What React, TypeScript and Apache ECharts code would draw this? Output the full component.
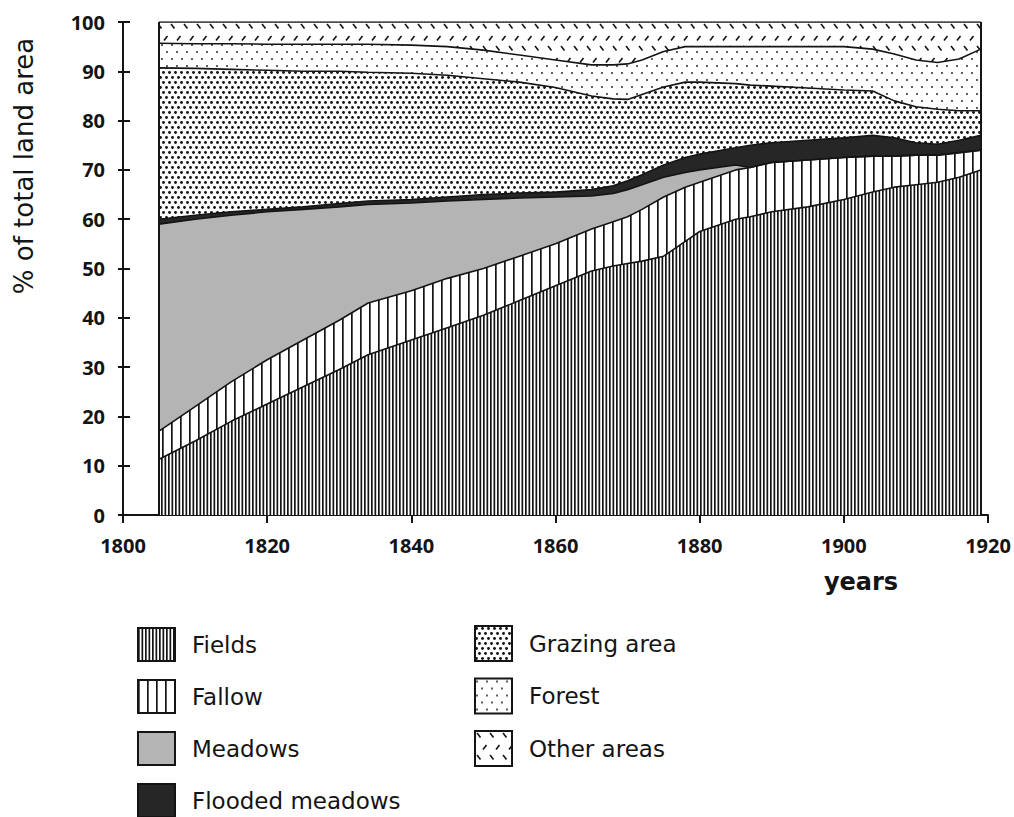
import React, { useEffect, useRef } from 'react';
import * as echarts from 'echarts';

// ---- data (share of total land area, %) ----
const years = [1805, 1810, 1815, 1820, 1825, 1830, 1834, 1840, 1845, 1850, 1855, 1860, 1865, 1868, 1870, 1872, 1875, 1878, 1880, 1885, 1887, 1890, 1895, 1900, 1904, 1907, 1910, 1913, 1916, 1919];
const fields = [11.3, 15, 19, 22.5, 26, 29.5, 32.5, 35.5, 38, 40.5, 43.5, 46.5, 49.5, 50.5, 51, 51.5, 52.5, 55.5, 57.5, 60, 60.5, 61.5, 62.5, 64, 65.5, 66.5, 67, 67.5, 68.5, 70];
const fallow = [5.7, 7, 8, 9, 9.5, 10, 10.5, 10, 10, 9.5, 9, 8.5, 8.5, 9, 9.5, 10.5, 12, 11, 10, 10, 10, 10, 9.5, 8.5, 7.3, 6.3, 6, 5.5, 5, 4];
const meadows = [42, 38, 33.8, 30, 26.5, 23, 20, 17.8, 15.7, 14, 11.8, 9.5, 6.7, 5.7, 5.5, 5, 4, 3, 2.5, 1, 0, 0, 0, 0, 0, 0, 0, 0, 0, 0];
const flooded = [1, 0.8, 0.7, 0.5, 0.5, 0.7, 0.7, 0.7, 0.8, 1, 1, 1, 1.3, 1.6, 1.8, 2, 2.5, 3, 3.2, 3.5, 4.5, 4, 4, 4, 4.2, 3.7, 2.5, 2.2, 2.5, 3];
const grazing = [30.7, 29.8, 28.9, 28.2, 27.5, 26.8, 26.1, 25.6, 24.7, 23.5, 22.5, 21.2, 19, 17.6, 16.5, 16.3, 15.8, 15.3, 14.6, 13, 12.2, 11.5, 10.6, 9.7, 9, 7.5, 7.3, 7.1, 6, 5];
const forest = [5, 5, 5.2, 5.3, 5.5, 5.5, 5.7, 5.7, 5.8, 5.8, 5.5, 5.6, 6.3, 6.9, 7.2, 7, 7.2, 7.2, 7.2, 7.5, 7.8, 8, 8.4, 8.8, 8.5, 9.5, 9.5, 9.5, 10.5, 12.5];
const other = [4.3, 4.4, 4.4, 4.5, 4.5, 4.5, 4.5, 4.7, 5, 5.7, 6.7, 7.7, 8.7, 8.7, 8.5, 7.7, 6, 5, 5, 5, 5, 5, 5, 5, 5.5, 6.5, 7.7, 8.2, 7.5, 5.5];

const seriesNames = ['Fields', 'Fallow', 'Meadows', 'Flooded meadows', 'Grazing area', 'Forest', 'Other areas'];
const seriesValues = [fields, fallow, meadows, flooded, grazing, forest, other];
const xTicks = { min: 1800, max: 1920, interval: 20 };
const yTicks = { min: 0, max: 100, interval: 10 };

const INK = '#141414';

function makePattern(w: number, h: number, draw: (ctx: CanvasRenderingContext2D) => void) {
  const c = document.createElement('canvas');
  c.width = w;
  c.height = h;
  const ctx = c.getContext('2d')!;
  ctx.fillStyle = '#ffffff';
  ctx.fillRect(0, 0, w, h);
  ctx.fillStyle = INK;
  ctx.strokeStyle = INK;
  draw(ctx);
  return { image: c, repeat: 'repeat' };
}

function dot(ctx: CanvasRenderingContext2D, x: number, y: number, r: number) {
  ctx.beginPath();
  ctx.arc(x, y, r, 0, Math.PI * 2);
  ctx.fill();
}

function buildFills() {
  const fieldsPat = makePattern(7, 4, (ctx) => {
    ctx.fillRect(0, 0, 1.7, 4);
    ctx.fillRect(3.5, 0, 1.7, 4);
  });
  const fallowPat = makePattern(9, 4, (ctx) => {
    ctx.fillRect(0, 0, 1.7, 4);
  });
  const grazingPat = makePattern(6, 10, (ctx) => {
    dot(ctx, 1.5, 2.5, 1.45);
    dot(ctx, 4.5, 7.5, 1.45);
  });
  const forestPat = makePattern(10, 14, (ctx) => {
    dot(ctx, 2, 3, 0.9);
    dot(ctx, 7, 10, 0.9);
  });
  const otherPat = makePattern(13, 22, (ctx) => {
    ctx.lineWidth = 1.6;
    ctx.beginPath();
    ctx.moveTo(2, 2);
    ctx.lineTo(5.5, 6.5);
    ctx.stroke();
    ctx.beginPath();
    ctx.moveTo(8, 18.5);
    ctx.lineTo(11.5, 14);
    ctx.stroke();
  });
  return [fieldsPat, fallowPat, '#b4b4b4', '#262626', grazingPat, forestPat, otherPat];
}

export default function App() {
  const ref = useRef<HTMLDivElement>(null);

  useEffect(() => {
    if (!ref.current) return;
    const chart = echarts.init(ref.current, undefined, { renderer: 'svg' });
    const fills = buildFills();

    // cumulative tops, built from the per-category shares
    const cumulative: number[][] = [];
    let running = years.map(() => 0);
    seriesValues.forEach((vals) => {
      running = running.map((r, i) => Math.round((r + vals[i]) * 100) / 100);
      cumulative.push(running.slice());
    });

    // painter's order: top layer first, each area filled down to 0
    const order = [6, 5, 4, 3, 2, 1, 0];
    const series: any[] = order.map((k, idx) => ({
      name: seriesNames[k],
      type: 'line',
      data: years.map((y, i) => [y, cumulative[k][i]]),
      showSymbol: false,
      symbol: 'none',
      color: INK,
      lineStyle: { color: INK, width: 1.6 },
      areaStyle: { color: fills[k], opacity: 1 },
      silent: true,
      z: 2,
      markLine:
        idx === 0
          ? {
              silent: true,
              symbol: ['none', 'none'],
              label: { show: false },
              lineStyle: { type: 'solid', color: INK, width: 2 },
              z: 10,
              data: [{ xAxis: years[0] }, { xAxis: years[years.length - 1] }],
            }
          : undefined,
    }));

    const legendText = {
      fontFamily: '"DejaVu Sans", sans-serif',
      fontSize: 23,
      lineHeight: 26,
      color: INK,
      padding: [0, 0, 0, 12],
    };
    const legendItem = (k: number) => ({
      name: seriesNames[k],
      icon: 'rect',
      itemStyle: { color: fills[k], borderColor: INK, borderWidth: 2 },
    });

    const axisLabelFont = {
      fontFamily: '"Open Sans", sans-serif',
      fontWeight: 'bold',
      fontSize: 20,
      color: INK,
    };

    chart.setOption({
      animation: false,
      backgroundColor: '#ffffff',
      grid: { left: 123, right: 26, top: 22, bottom: 302, containLabel: false },
      xAxis: {
        type: 'value',
        min: xTicks.min,
        max: xTicks.max,
        interval: xTicks.interval,
        axisLine: { show: true, lineStyle: { color: INK, width: 2 } },
        axisTick: { show: true, length: 8, lineStyle: { color: INK, width: 2 } },
        axisLabel: { margin: 20, formatter: (v: number) => String(v), ...axisLabelFont },
        splitLine: { show: false },
      },
      yAxis: [
        {
          type: 'value',
          min: yTicks.min,
          max: yTicks.max,
          interval: yTicks.interval,
          position: 'left',
          axisLine: { show: true, lineStyle: { color: INK, width: 2 } },
          axisTick: { show: true, length: 5, lineStyle: { color: INK, width: 2 } },
          axisLabel: { margin: 18, ...axisLabelFont },
          splitLine: { show: false },
        },
        {
          type: 'value',
          min: yTicks.min,
          max: yTicks.max,
          interval: yTicks.interval,
          position: 'left',
          axisLine: { show: false },
          axisTick: { show: true, inside: true, length: 7, lineStyle: { color: INK, width: 2 } },
          axisLabel: { show: false },
          splitLine: { show: false },
        },
      ],
      legend: [
        {
          orient: 'vertical',
          left: 137,
          top: 627,
          height: 260,
          padding: 0,
          itemWidth: 37,
          itemHeight: 33,
          itemGap: 17,
          selectedMode: false,
          textStyle: legendText,
          data: [0, 1, 2, 3].map(legendItem),
        },
        {
          orient: 'vertical',
          left: 474,
          top: 625,
          height: 260,
          padding: 0,
          itemWidth: 37,
          itemHeight: 35,
          itemGap: 15.5,
          selectedMode: false,
          textStyle: legendText,
          data: [4, 5, 6].map(legendItem),
        },
      ],
      graphic: [
        {
          type: 'text',
          x: 24,
          y: 166,
          rotation: Math.PI / 2,
          style: {
            text: '% of total land area',
            fill: INK,
            fontFamily: '"DejaVu Sans", sans-serif',
            fontSize: 26,
            align: 'center',
            verticalAlign: 'middle',
          },
        },
        {
          type: 'text',
          x: 861,
          y: 582,
          style: {
            text: 'years',
            fill: INK,
            fontFamily: '"DejaVu Sans", sans-serif',
            fontWeight: 'bold',
            fontSize: 24,
            align: 'center',
            verticalAlign: 'middle',
          },
        },
      ],
      series,
    });

    return () => chart.dispose();
  }, []);

  return (
    <div
      ref={ref}
      style={{ position: 'fixed', left: 0, top: 0, width: 1014, height: 817, background: '#fff' }}
    />
  );
}
